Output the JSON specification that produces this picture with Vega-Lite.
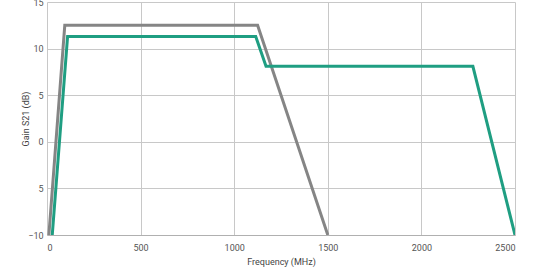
{
  "$schema": "https://vega.github.io/schema/vega-lite/v6.json",
  "width": 468,
  "height": 233,
  "autosize": "none",
  "padding": {"left": 47, "top": 2, "right": 25, "bottom": 37},
  "background": "white",
  "config": {
    "view": {"stroke": null},
    "font": "Roboto",
    "axis": {
      "gridColor": "#c8c8c8",
      "gridWidth": 1,
      "domainColor": "#b0b0b0",
      "ticks": false,
      "labelColor": "#555555",
      "labelFontSize": 9,
      "titleColor": "#444444",
      "titleFontSize": 9,
      "titleFontWeight": "normal"
    }
  },
  "data": {
    "values": [
      {"series": "A", "freq": 10, "gain": -10},
      {"series": "A", "freq": 95, "gain": 12.5},
      {"series": "A", "freq": 1125, "gain": 12.5},
      {"series": "A", "freq": 1500, "gain": -10},
      {"series": "B", "freq": 28, "gain": -10},
      {"series": "B", "freq": 110, "gain": 11.3},
      {"series": "B", "freq": 1115, "gain": 11.3},
      {"series": "B", "freq": 1170, "gain": 8.1},
      {"series": "B", "freq": 2275, "gain": 8.1},
      {"series": "B", "freq": 2500, "gain": -10}
    ]
  },
  "mark": {"type": "line", "strokeWidth": 3, "clip": true},
  "encoding": {
    "x": {
      "field": "freq", "type": "quantitative",
      "scale": {"domain": [0, 2500], "nice": false},
      "axis": {"values": [0, 500, 1000, 1500, 2000, 2500], "format": "d", "title": "Frequency (MHz)", "labelPadding": 8, "titlePadding": 5, "domain": true}
    },
    "y": {
      "field": "gain", "type": "quantitative",
      "scale": {"domain": [-10, 15], "nice": false},
      "axis": {"values": [-10, -5, 0, 5, 10, 15], "title": "Gain S21 (dB)", "labelPadding": 4, "titleX": -17, "domain": false,
        "labelExpr": "datum.value == -5 ? '5' : datum.label"}
    },
    "color": {
      "field": "series", "type": "nominal",
      "scale": {"domain": ["A", "B"], "range": ["#858585", "#1f9e82"]},
      "legend": null
    },
    "order": {"field": "freq"}
  }
}
